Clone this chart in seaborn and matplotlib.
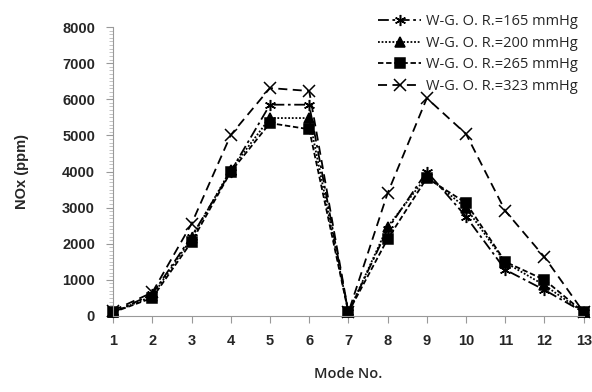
import matplotlib
matplotlib.use("Agg")
import matplotlib.pyplot as plt
import numpy as np
import pandas as pd
import seaborn as sns
from matplotlib.ticker import MultipleLocator

modes = list(range(1, 14))
nox_165 = [100, 600, 2200, 4000, 5850, 5850, 100, 2400, 4000, 2750, 1280, 720, 100]
nox_200 = [100, 550, 2150, 4050, 5480, 5480, 100, 2470, 3870, 2990, 1480, 850, 100]
nox_265 = [100, 500, 2050, 3990, 5340, 5170, 100, 2130, 3820, 3130, 1500, 1000, 100]
nox_323 = [150, 650, 2550, 5010, 6310, 6230, 100, 3400, 6030, 5040, 2910, 1630, 100]
labels = ["W-G. O. R.=165 mmHg", "W-G. O. R.=200 mmHg",
          "W-G. O. R.=265 mmHg", "W-G. O. R.=323 mmHg"]

df = pd.DataFrame({"mode": modes * 4,
                   "nox": nox_165 + nox_200 + nox_265 + nox_323,
                   "series": np.repeat(labels, len(modes))})

sns.set_style("white")
fig, ax = plt.subplots(figsize=(5.92, 3.92), dpi=100)
fig.subplots_adjust(left=0.191, right=0.986, bottom=0.194, top=0.931)

styles = {
    labels[0]: dict(ls=(0, (6, 2, 1.5, 2)), marker=(6, 2, 0), ms=8),
    labels[1]: dict(ls=(0, (1, 1)), marker="^", ms=7),
    labels[2]: dict(ls=(0, (3, 1.5)), marker="s", ms=7),
    labels[3]: dict(ls=(0, (5, 3)), marker="x", ms=8),
}
for name in labels:
    st = styles[name]
    sns.lineplot(data=df[df.series == name], x="mode", y="nox", ax=ax,
                 color="black", lw=1.3, linestyle=st["ls"], marker=st["marker"],
                 markersize=st["ms"], markeredgecolor="black", markeredgewidth=1.1,
                 label=name, clip_on=False)

ax.set_xlim(1, 13)
ax.set_ylim(0, 8000)
ax.set_xticks(modes)
ax.yaxis.set_major_locator(MultipleLocator(1000))
ax.yaxis.set_minor_locator(MultipleLocator(100))
for s in ["top", "right"]:
    ax.spines[s].set_visible(False)
for s in ["left", "bottom"]:
    ax.spines[s].set_color("#999999")
ax.tick_params(axis="both", which="major", direction="out", length=5, color="#999999",
               labelsize=10.5, pad=8, left=True, bottom=True)
ax.tick_params(axis="y", which="minor", direction="out", length=3, color="#bbbbbb", left=True)
for t in ax.get_xticklabels() + ax.get_yticklabels():
    t.set_fontfamily("Liberation Sans")
    t.set_fontweight("bold")

ax.set_xlabel("Mode No.", fontfamily="Open Sans", fontsize=10.5, fontweight="semibold", labelpad=14)
ax.set_ylabel("NOx (ppm)", fontfamily="Liberation Sans", fontsize=10.5, fontweight="bold", labelpad=24)

leg = ax.legend(loc="upper right", bbox_to_anchor=(1.015, 1.09), frameon=False,
                handlelength=3.0, handletextpad=0.3, labelspacing=0.45,
                prop={"family": "Open Sans", "size": 10.5})

fig.savefig("out.png", dpi=100)
